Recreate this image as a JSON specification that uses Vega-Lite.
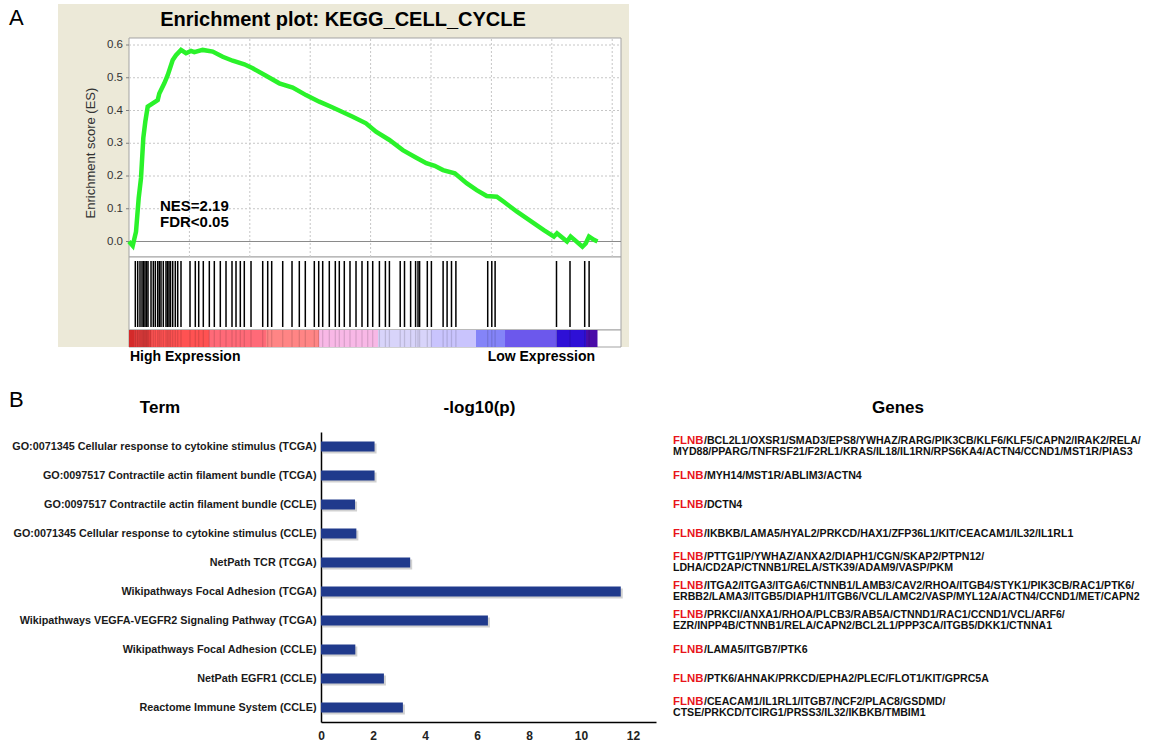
{
  "$schema": "https://vega.github.io/schema/vega-lite/v6.json",
  "background": "white",
  "padding": {"left": 8, "top": 4, "right": 0, "bottom": 0},
  "bounds": "flush",
  "spacing": 85,
  "config": {"view": {"stroke": null}, "font": "Liberation Sans"},
  "datasets": {
    "hits": [{"rank":261},{"rank":360},{"rank":455},{"rank":538},{"rank":600},{"rank":662},{"rank":724},{"rank":786},{"rank":911},{"rank":1006},{"rank":1089},{"rank":1188},{"rank":1254},{"rank":1324},{"rank":1420},{"rank":1531},{"rank":1594},{"rank":1656},{"rank":1718},{"rank":1809},{"rank":1916},{"rank":2016},{"rank":2152},{"rank":2525},{"rank":2744},{"rank":2885},{"rank":3075},{"rank":3324},{"rank":3531},{"rank":3779},{"rank":4015},{"rank":4263},{"rank":4429},{"rank":4607},{"rank":4772},{"rank":5050},{"rank":5534},{"rank":5741},{"rank":5906},{"rank":6362},{"rank":6747},{"rank":7049},{"rank":7297},{"rank":7670},{"rank":7852},{"rank":8017},{"rank":8290},{"rank":8539},{"rank":8704},{"rank":8911},{"rank":9147},{"rank":9396},{"rank":9644},{"rank":9880},{"rank":10087},{"rank":10364},{"rank":10612},{"rank":10778},{"rank":11225},{"rank":11403},{"rank":11656},{"rank":11862},{"rank":11962},{"rank":12028},{"rank":12347},{"rank":12516},{"rank":13001},{"rank":13166},{"rank":13348},{"rank":13530},{"rank":14847},{"rank":15016},{"rank":15153},{"rank":17694},{"rank":18253},{"rank":18861},{"rank":19044}],
    "es": [{"rank":0,"es":0},{"rank":153,"es":-0.013},{"rank":290,"es":0.03},{"rank":401,"es":0.133},{"rank":497,"es":0.194},{"rank":592,"es":0.316},{"rank":675,"es":0.366},{"rank":774,"es":0.412},{"rank":981,"es":0.422},{"rank":1188,"es":0.432},{"rank":1254,"es":0.452},{"rank":1461,"es":0.483},{"rank":1602,"es":0.508},{"rank":1809,"es":0.554},{"rank":1945,"es":0.569},{"rank":2152,"es":0.585},{"rank":2359,"es":0.575},{"rank":2566,"es":0.582},{"rank":2703,"es":0.578},{"rank":3050,"es":0.585},{"rank":3464,"es":0.58},{"rank":3878,"es":0.564},{"rank":4292,"es":0.552},{"rank":4772,"es":0.541},{"rank":5120,"es":0.529},{"rank":5671,"es":0.506},{"rank":6221,"es":0.483},{"rank":6775,"es":0.47},{"rank":7326,"es":0.447},{"rank":7876,"es":0.427},{"rank":8431,"es":0.409},{"rank":9259,"es":0.381},{"rank":9809,"es":0.361},{"rank":10223,"es":0.335},{"rank":10778,"es":0.31},{"rank":11333,"es":0.279},{"rank":11891,"es":0.256},{"rank":12305,"es":0.239},{"rank":12653,"es":0.231},{"rank":12996,"es":0.218},{"rank":13485,"es":0.208},{"rank":13973,"es":0.178},{"rank":14391,"es":0.157},{"rank":14805,"es":0.139},{"rank":15223,"es":0.137},{"rank":15500,"es":0.122},{"rank":16059,"es":0.091},{"rank":16614,"es":0.063},{"rank":17169,"es":0.035},{"rank":17587,"es":0.015},{"rank":17715,"es":0.025},{"rank":17930,"es":0.012},{"rank":18129,"es":0.0},{"rank":18278,"es":0.015},{"rank":18489,"es":0.002},{"rank":18767,"es":-0.016},{"rank":18903,"es":-0.006},{"rank":19039,"es":0.015},{"rank":19246,"es":0.005},{"rank":19391,"es":0.0}],
    "colorbar": [{"seg":1,"start":0,"end":207},{"seg":2,"start":207,"end":911},{"seg":3,"start":911,"end":3311},{"seg":4,"start":3311,"end":5670},{"seg":5,"start":5670,"end":7864},{"seg":6,"start":7864,"end":10306},{"seg":7,"start":10306,"end":12500},{"seg":8,"start":12500,"end":14362},{"seg":9,"start":14362,"end":15563},{"seg":10,"start":15563,"end":17715},{"seg":11,"start":17715,"end":18915},{"seg":12,"start":18915,"end":19391}],
    "esTicks": [{"v":0},{"v":0.1},{"v":0.2},{"v":0.3},{"v":0.4},{"v":0.5},{"v":0.6}],
    "bars": [
      {"term":"GO:0071345 Cellular response to cytokine stimulus (TCGA)","value":2.06},
      {"term":"GO:0097517 Contractile actin filament bundle (TCGA)","value":2.06},
      {"term":"GO:0097517 Contractile actin filament bundle (CCLE)","value":1.31},
      {"term":"GO:0071345 Cellular response to cytokine stimulus (CCLE)","value":1.36},
      {"term":"NetPath TCR (TCGA)","value":3.43},
      {"term":"Wikipathways Focal Adhesion (TCGA)","value":11.53},
      {"term":"Wikipathways VEGFA-VEGFR2 Signaling Pathway (TCGA)","value":6.42},
      {"term":"Wikipathways Focal Adhesion (CCLE)","value":1.32},
      {"term":"NetPath EGFR1 (CCLE)","value":2.42},
      {"term":"Reactome Immune System (CCLE)","value":3.15}
    ],
    "genes": [
      {"term":"GO:0071345 Cellular response to cytokine stimulus (TCGA)","part":"flnb","line":-1,"text":"FLNB"},
      {"term":"GO:0071345 Cellular response to cytokine stimulus (TCGA)","part":"first","line":-1,"text":"/BCL2L1/OXSR1/SMAD3/EPS8/YWHAZ/RARG/PIK3CB/KLF6/KLF5/CAPN2/IRAK2/RELA/"},
      {"term":"GO:0071345 Cellular response to cytokine stimulus (TCGA)","part":"second","line":1,"text":"MYD88/PPARG/TNFRSF21/F2RL1/KRAS/IL18/IL1RN/RPS6KA4/ACTN4/CCND1/MST1R/PIAS3"},
      {"term":"GO:0097517 Contractile actin filament bundle (TCGA)","part":"flnb","line":0,"text":"FLNB"},
      {"term":"GO:0097517 Contractile actin filament bundle (TCGA)","part":"first","line":0,"text":"/MYH14/MST1R/ABLIM3/ACTN4"},
      {"term":"GO:0097517 Contractile actin filament bundle (CCLE)","part":"flnb","line":0,"text":"FLNB"},
      {"term":"GO:0097517 Contractile actin filament bundle (CCLE)","part":"first","line":0,"text":"/DCTN4"},
      {"term":"GO:0071345 Cellular response to cytokine stimulus (CCLE)","part":"flnb","line":0,"text":"FLNB"},
      {"term":"GO:0071345 Cellular response to cytokine stimulus (CCLE)","part":"first","line":0,"text":"/IKBKB/LAMA5/HYAL2/PRKCD/HAX1/ZFP36L1/KIT/CEACAM1/IL32/IL1RL1"},
      {"term":"NetPath TCR (TCGA)","part":"flnb","line":-1,"text":"FLNB"},
      {"term":"NetPath TCR (TCGA)","part":"first","line":-1,"text":"/PTTG1IP/YWHAZ/ANXA2/DIAPH1/CGN/SKAP2/PTPN12/"},
      {"term":"NetPath TCR (TCGA)","part":"second","line":1,"text":"LDHA/CD2AP/CTNNB1/RELA/STK39/ADAM9/VASP/PKM"},
      {"term":"Wikipathways Focal Adhesion (TCGA)","part":"flnb","line":-1,"text":"FLNB"},
      {"term":"Wikipathways Focal Adhesion (TCGA)","part":"first","line":-1,"text":"/ITGA2/ITGA3/ITGA6/CTNNB1/LAMB3/CAV2/RHOA/ITGB4/STYK1/PIK3CB/RAC1/PTK6/"},
      {"term":"Wikipathways Focal Adhesion (TCGA)","part":"second","line":1,"text":"ERBB2/LAMA3/ITGB5/DIAPH1/ITGB6/VCL/LAMC2/VASP/MYL12A/ACTN4/CCND1/MET/CAPN2"},
      {"term":"Wikipathways VEGFA-VEGFR2 Signaling Pathway (TCGA)","part":"flnb","line":-1,"text":"FLNB"},
      {"term":"Wikipathways VEGFA-VEGFR2 Signaling Pathway (TCGA)","part":"first","line":-1,"text":"/PRKCI/ANXA1/RHOA/PLCB3/RAB5A/CTNND1/RAC1/CCND1/VCL/ARF6/"},
      {"term":"Wikipathways VEGFA-VEGFR2 Signaling Pathway (TCGA)","part":"second","line":1,"text":"EZR/INPP4B/CTNNB1/RELA/CAPN2/BCL2L1/PPP3CA/ITGB5/DKK1/CTNNA1"},
      {"term":"Wikipathways Focal Adhesion (CCLE)","part":"flnb","line":0,"text":"FLNB"},
      {"term":"Wikipathways Focal Adhesion (CCLE)","part":"first","line":0,"text":"/LAMA5/ITGB7/PTK6"},
      {"term":"NetPath EGFR1 (CCLE)","part":"flnb","line":0,"text":"FLNB"},
      {"term":"NetPath EGFR1 (CCLE)","part":"first","line":0,"text":"/PTK6/AHNAK/PRKCD/EPHA2/PLEC/FLOT1/KIT/GPRC5A"},
      {"term":"Reactome Immune System (CCLE)","part":"flnb","line":-1,"text":"FLNB"},
      {"term":"Reactome Immune System (CCLE)","part":"first","line":-1,"text":"/CEACAM1/IL1RL1/ITGB7/NCF2/PLAC8/GSDMD/"},
      {"term":"Reactome Immune System (CCLE)","part":"second","line":1,"text":"CTSE/PRKCD/TCIRG1/PRSS3/IL32/IKBKB/TMBIM1"}
    ]
  },
  "vconcat": [
    {
      "width": 571,
      "height": 343,
      "view": {"fill": "#ece9d8", "stroke": null},
      "layer": [
        {
          "data": {"values": [{}]},
          "mark": {"type": "rect", "fill": "white", "stroke": "#a3a3a3", "strokeWidth": 1},
          "encoding": {
            "x": {"datum": 0, "type": "quantitative", "scale": {"domain": [-2939, 20695], "nice": false, "zero": false}, "axis": null},
            "x2": {"datum": 20364},
            "y": {"datum": 0.6214, "type": "quantitative", "scale": {"domain": [-0.3221, 0.7252], "nice": false, "zero": false}, "axis": null},
            "y2": {"datum": -0.0473}
          }
        },
        {
          "data": {"values": [{}]},
          "mark": {"type": "rect", "fill": "white", "stroke": "#a3a3a3", "strokeWidth": 1},
          "encoding": {
            "x": {"datum": 0, "type": "quantitative", "scale": {"domain": [-2939, 20695], "nice": false, "zero": false}, "axis": null},
            "x2": {"datum": 20364},
            "y": {"datum": -0.0473, "type": "quantitative", "scale": {"domain": [-0.3221, 0.7252], "nice": false, "zero": false}, "axis": null},
            "y2": {"datum": -0.2702}
          }
        },
        {
          "data": {"values": [{}]},
          "mark": {"type": "rect", "fill": "white", "stroke": "#a3a3a3", "strokeWidth": 1},
          "encoding": {
            "x": {"datum": 0, "type": "quantitative", "scale": {"domain": [-2939, 20695], "nice": false, "zero": false}, "axis": null},
            "x2": {"datum": 20364},
            "y": {"datum": -0.2702, "type": "quantitative", "scale": {"domain": [-0.3221, 0.7252], "nice": false, "zero": false}, "axis": null},
            "y2": {"datum": -0.3221}
          }
        },
        {
          "data": {"values": [{"g": 2500}, {"g": 5000}, {"g": 7500}, {"g": 10000}, {"g": 12500}, {"g": 15000}, {"g": 17500}, {"g": 20000}]},
          "mark": {"type": "rule", "color": "#c6c6c6", "strokeWidth": 1, "strokeDash": [2, 2]},
          "encoding": {
            "x": {"field": "g", "type": "quantitative", "scale": {"domain": [-2939, 20695], "nice": false, "zero": false}, "axis": null},
            "y": {"datum": -0.0473, "type": "quantitative", "scale": {"domain": [-0.3221, 0.7252], "nice": false, "zero": false}, "axis": null},
            "y2": {"datum": 0.6214}
          }
        },
        {
          "data": {"name": "esTicks"},
          "transform": [{"filter": "datum.v > 0"}],
          "mark": {"type": "rule", "color": "#c6c6c6", "strokeWidth": 1, "strokeDash": [2, 2]},
          "encoding": {
            "y": {"field": "v", "type": "quantitative", "scale": {"domain": [-0.3221, 0.7252], "nice": false, "zero": false}, "axis": null},
            "x": {"datum": 0, "type": "quantitative", "scale": {"domain": [-2939, 20695], "nice": false, "zero": false}, "axis": null},
            "x2": {"datum": 20364}
          }
        },
        {
          "data": {"values": [{}]},
          "mark": {"type": "rule", "color": "#8a8a8a", "strokeWidth": 1.2},
          "encoding": {
            "y": {"datum": 0, "type": "quantitative", "scale": {"domain": [-0.3221, 0.7252], "nice": false, "zero": false}, "axis": null},
            "x": {"datum": 0, "type": "quantitative", "scale": {"domain": [-2939, 20695], "nice": false, "zero": false}, "axis": null},
            "x2": {"datum": 20364}
          }
        },
        {
          "data": {"name": "esTicks"},
          "mark": {"type": "rule", "color": "#808080", "strokeWidth": 1},
          "encoding": {
            "y": {"field": "v", "type": "quantitative", "scale": {"domain": [-0.3221, 0.7252], "nice": false, "zero": false}, "axis": null},
            "x": {"datum": -124, "type": "quantitative", "scale": {"domain": [-2939, 20695], "nice": false, "zero": false}, "axis": null},
            "x2": {"datum": 0}
          }
        },
        {
          "data": {"name": "esTicks"},
          "mark": {"type": "text", "align": "right", "baseline": "middle", "fontSize": 11.5, "color": "#333333"},
          "encoding": {
            "y": {"field": "v", "type": "quantitative", "scale": {"domain": [-0.3221, 0.7252], "nice": false, "zero": false}, "axis": null},
            "x": {"datum": -248, "type": "quantitative", "scale": {"domain": [-2939, 20695], "nice": false, "zero": false}, "axis": null},
            "text": {"field": "v", "type": "quantitative", "format": ".1f"}
          }
        },
        {
          "data": {"values": [{"t": "Enrichment score (ES)"}]},
          "mark": {"type": "text", "align": "center", "baseline": "middle", "angle": 270, "fontSize": 13, "color": "#333333"},
          "encoding": {
            "x": {"datum": -1573, "type": "quantitative", "scale": {"domain": [-2939, 20695], "nice": false, "zero": false}, "axis": null},
            "y": {"datum": 0.2702, "type": "quantitative", "scale": {"domain": [-0.3221, 0.7252], "nice": false, "zero": false}, "axis": null},
            "text": {"field": "t"}
          }
        },
        {
          "data": {"name": "colorbar"},
          "mark": {"type": "rect"},
          "encoding": {
            "x": {"field": "start", "type": "quantitative", "scale": {"domain": [-2939, 20695], "nice": false, "zero": false}, "axis": null},
            "x2": {"field": "end"},
            "y": {"datum": -0.2702, "type": "quantitative", "scale": {"domain": [-0.3221, 0.7252], "nice": false, "zero": false}, "axis": null},
            "y2": {"datum": -0.3221},
            "color": {"field": "seg", "type": "ordinal", "legend": null, "scale": {"domain": [1,2,3,4,5,6,7,8,9,10,11,12], "range": ["#d42a2a","#e23c3c","#ff5252","#ff6a78","#ff8585","#f8b8e6","#d8d4fa","#c9c4fd","#8484f8","#6c58ec","#2e10d6","#4a0ca8"]}}
          }
        },
        {
          "data": {"name": "hits"},
          "mark": {"type": "rule", "color": "#000000", "strokeWidth": 1.3, "opacity": 0.13},
          "encoding": {
            "x": {"field": "rank", "type": "quantitative", "scale": {"domain": [-2939, 20695], "nice": false, "zero": false}, "axis": null},
            "y": {"datum": -0.2702, "type": "quantitative", "scale": {"domain": [-0.3221, 0.7252], "nice": false, "zero": false}, "axis": null},
            "y2": {"datum": -0.3221}
          }
        },
        {
          "data": {"name": "hits"},
          "mark": {"type": "rule", "color": "#000000", "strokeWidth": 1.5},
          "encoding": {
            "x": {"field": "rank", "type": "quantitative", "scale": {"domain": [-2939, 20695], "nice": false, "zero": false}, "axis": null},
            "y": {"datum": -0.0595, "type": "quantitative", "scale": {"domain": [-0.3221, 0.7252], "nice": false, "zero": false}, "axis": null},
            "y2": {"datum": -0.2611}
          }
        },
        {
          "data": {"name": "es"},
          "mark": {"type": "line", "color": "#2af22a", "strokeWidth": 4.5, "strokeJoin": "miter"},
          "encoding": {
            "x": {"field": "rank", "type": "quantitative", "scale": {"domain": [-2939, 20695], "nice": false, "zero": false}, "axis": null},
            "y": {"field": "es", "type": "quantitative", "scale": {"domain": [-0.3221, 0.7252], "nice": false, "zero": false}, "axis": null}
          }
        },
        {
          "data": {"values": [{"t": "Enrichment plot: KEGG_CELL_CYCLE"}]},
          "mark": {"type": "text", "align": "center", "baseline": "middle", "fontSize": 20, "fontWeight": "bold", "color": "#000000"},
          "encoding": {
            "x": {"datum": 8857, "type": "quantitative", "scale": {"domain": [-2939, 20695], "nice": false, "zero": false}, "axis": null},
            "y": {"datum": 0.6763, "type": "quantitative", "scale": {"domain": [-0.3221, 0.7252], "nice": false, "zero": false}, "axis": null},
            "text": {"field": "t"}
          }
        },
        {
          "data": {"values": [{"t": "NES=2.19"}]},
          "mark": {"type": "text", "align": "left", "baseline": "middle", "fontSize": 15, "fontWeight": "bold", "color": "#000000"},
          "encoding": {
            "x": {"datum": 1283, "type": "quantitative", "scale": {"domain": [-2939, 20695], "nice": false, "zero": false}, "axis": null},
            "y": {"datum": 0.1084, "type": "quantitative", "scale": {"domain": [-0.3221, 0.7252], "nice": false, "zero": false}, "axis": null},
            "text": {"field": "t"}
          }
        },
        {
          "data": {"values": [{"t": "FDR<0.05"}]},
          "mark": {"type": "text", "align": "left", "baseline": "middle", "fontSize": 15, "fontWeight": "bold", "color": "#000000"},
          "encoding": {
            "x": {"datum": 1283, "type": "quantitative", "scale": {"domain": [-2939, 20695], "nice": false, "zero": false}, "axis": null},
            "y": {"datum": 0.0595, "type": "quantitative", "scale": {"domain": [-0.3221, 0.7252], "nice": false, "zero": false}, "axis": null},
            "text": {"field": "t"}
          }
        },
        {
          "data": {"values": [{"t": "A"}]},
          "mark": {"type": "text", "align": "left", "baseline": "middle", "fontSize": 22, "fontWeight": "normal", "color": "#000000"},
          "encoding": {
            "x": {"datum": -4967, "type": "quantitative", "scale": {"domain": [-2939, 20695], "nice": false, "zero": false}, "axis": null},
            "y": {"datum": 0.6824, "type": "quantitative", "scale": {"domain": [-0.3221, 0.7252], "nice": false, "zero": false}, "axis": null},
            "text": {"field": "t"}
          }
        },
        {
          "data": {"values": [{"t": "High Expression"}]},
          "mark": {"type": "text", "align": "left", "baseline": "middle", "fontSize": 14, "fontWeight": "bold", "color": "#000000"},
          "encoding": {
            "x": {"datum": 41, "type": "quantitative", "scale": {"domain": [-2939, 20695], "nice": false, "zero": false}, "axis": null},
            "y": {"datum": -0.3527, "type": "quantitative", "scale": {"domain": [-0.3221, 0.7252], "nice": false, "zero": false}, "axis": null},
            "text": {"field": "t"}
          }
        },
        {
          "data": {"values": [{"t": "Low Expression"}]},
          "mark": {"type": "text", "align": "right", "baseline": "middle", "fontSize": 14, "fontWeight": "bold", "color": "#000000"},
          "encoding": {
            "x": {"datum": 19288, "type": "quantitative", "scale": {"domain": [-2939, 20695], "nice": false, "zero": false}, "axis": null},
            "y": {"datum": -0.3527, "type": "quantitative", "scale": {"domain": [-0.3221, 0.7252], "nice": false, "zero": false}, "axis": null},
            "text": {"field": "t"}
          }
        }
      ]
    },
    {
      "bounds": "flush",
      "spacing": 17,
      "hconcat": [
        {
          "width": 246,
          "height": 290,
          "layer": [
            {
              "data": {"values": [{"t": "B"}]},
              "mark": {"type": "text", "align": "left", "baseline": "middle", "fontSize": 22, "fontWeight": "normal", "color": "#000000"},
              "encoding": {
                "x": {"datum": -0.19919, "type": "quantitative", "scale": {"domain": [0, 1], "nice": false, "zero": false}, "axis": null},
                "y": {"datum": 1.1103, "type": "quantitative", "scale": {"domain": [0, 1], "nice": false, "zero": false}, "axis": null},
                "text": {"field": "t"}
              }
            },
            {
              "data": {"values": [{"t": "Term"}]},
              "mark": {"type": "text", "align": "center", "baseline": "middle", "fontSize": 17, "fontWeight": "bold", "color": "#000000"},
              "encoding": {
                "x": {"datum": 0.41463, "type": "quantitative", "scale": {"domain": [0, 1], "nice": false, "zero": false}, "axis": null},
                "y": {"datum": 1.08276, "type": "quantitative", "scale": {"domain": [0, 1], "nice": false, "zero": false}, "axis": null},
                "text": {"field": "t"}
              }
            },
            {
              "data": {"values": [{"t": "-log10(p)"}]},
              "mark": {"type": "text", "align": "center", "baseline": "middle", "fontSize": 17, "fontWeight": "bold", "color": "#000000"},
              "encoding": {
                "x": {"datum": 1.71341, "type": "quantitative", "scale": {"domain": [0, 1], "nice": false, "zero": false}, "axis": null},
                "y": {"datum": 1.08276, "type": "quantitative", "scale": {"domain": [0, 1], "nice": false, "zero": false}, "axis": null},
                "text": {"field": "t"}
              }
            },
            {
              "data": {"values": [{"t": "Genes"}]},
              "mark": {"type": "text", "align": "center", "baseline": "middle", "fontSize": 17, "fontWeight": "bold", "color": "#000000"},
              "encoding": {
                "x": {"datum": 3.41463, "type": "quantitative", "scale": {"domain": [0, 1], "nice": false, "zero": false}, "axis": null},
                "y": {"datum": 1.08276, "type": "quantitative", "scale": {"domain": [0, 1], "nice": false, "zero": false}, "axis": null},
                "text": {"field": "t"}
              }
            }
          ]
        },
        {
          "width": 335,
          "height": 290,
          "data": {"name": "bars"},
          "encoding": {
            "y": {"field": "term", "type": "nominal", "sort": null,
              "scale": {"domain": ["GO:0071345 Cellular response to cytokine stimulus (TCGA)","GO:0097517 Contractile actin filament bundle (TCGA)","GO:0097517 Contractile actin filament bundle (CCLE)","GO:0071345 Cellular response to cytokine stimulus (CCLE)","NetPath TCR (TCGA)","Wikipathways Focal Adhesion (TCGA)","Wikipathways VEGFA-VEGFR2 Signaling Pathway (TCGA)","Wikipathways Focal Adhesion (CCLE)","NetPath EGFR1 (CCLE)","Reactome Immune System (CCLE)"], "paddingInner": 0, "paddingOuter": 0},
              "axis": {"title": null, "ticks": false, "domain": true, "domainColor": "#000000", "domainWidth": 1.5, "labelFontSize": 10.8, "labelFontWeight": "bold", "labelColor": "#1a1a1a", "labelLimit": 450, "labelPadding": 5}},
            "x": {"field": "value", "type": "quantitative", "scale": {"domain": [0, 12.885], "nice": false},
              "axis": {"values": [0, 2, 4, 6, 8, 10, 12], "title": null, "grid": false, "ticks": false, "domain": true, "domainColor": "#000000", "domainWidth": 1.5, "labelFontSize": 12, "labelFontWeight": "bold", "labelColor": "#222222", "labelPadding": 8, "labelFlush": false}}
          },
          "layer": [
            {
              "mark": {"type": "bar", "color": "#9a9a9a", "opacity": 0.45, "size": 10, "xOffset": 2, "yOffset": 2}
            },
            {
              "mark": {"type": "bar", "color": "#203a8c", "size": 10}
            }
          ]
        },
        {
          "width": 485,
          "height": 290,
          "data": {"name": "genes"},
          "encoding": {
            "y": {"field": "term", "type": "nominal", "sort": null,
              "scale": {"domain": ["GO:0071345 Cellular response to cytokine stimulus (TCGA)","GO:0097517 Contractile actin filament bundle (TCGA)","GO:0097517 Contractile actin filament bundle (CCLE)","GO:0071345 Cellular response to cytokine stimulus (CCLE)","NetPath TCR (TCGA)","Wikipathways Focal Adhesion (TCGA)","Wikipathways VEGFA-VEGFR2 Signaling Pathway (TCGA)","Wikipathways Focal Adhesion (CCLE)","NetPath EGFR1 (CCLE)","Reactome Immune System (CCLE)"], "paddingInner": 0, "paddingOuter": 0},
              "axis": null},
            "x": {"datum": 0, "type": "quantitative", "scale": {"domain": [0, 1]}, "axis": null},
            "yOffset": {"field": "line", "type": "quantitative", "scale": {"domain": [-1, 1], "range": [8.8, 20.2]}},
            "text": {"field": "text"}
          },
          "layer": [
            {
              "transform": [{"filter": "datum.part === 'flnb'"}],
              "mark": {"type": "text", "align": "left", "baseline": "middle", "fontSize": 11.4, "fontWeight": "bold", "color": "#e8141b"}
            },
            {
              "transform": [{"filter": "datum.part === 'first'"}],
              "mark": {"type": "text", "align": "left", "baseline": "middle", "fontSize": 10.6, "fontWeight": "bold", "color": "#111111", "dx": 31}
            },
            {
              "transform": [{"filter": "datum.part === 'second'"}],
              "mark": {"type": "text", "align": "left", "baseline": "middle", "fontSize": 10.6, "fontWeight": "bold", "color": "#111111"}
            }
          ]
        }
      ]
    }
  ]
}
